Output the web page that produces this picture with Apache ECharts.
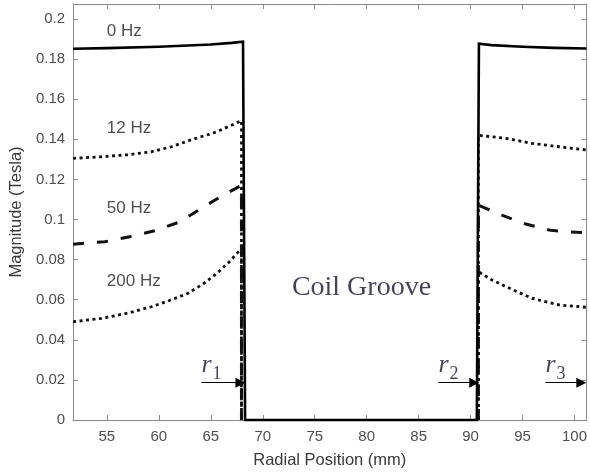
<!DOCTYPE html>
<html>
<head>
<meta charset="utf-8">
<title>Magnitude vs radial position</title>
<script src="https://cdn.jsdelivr.net/npm/echarts@6/dist/echarts.min.js"></script>
<style>
  html, body { margin: 0; padding: 0; background: #fff; }
  #chart { width: 590px; height: 476px; }
</style>
</head>
<body>
<div id="chart"></div>
<script>
// Axis ranges and ticks
const xMin = 51.75;
const xMax = 101.15;
const xTicks = [55, 60, 65, 70, 75, 80, 85, 90, 95, 100];
const yMin = 0;
const yMax = 0.2075;
const yTicks = [0, 0.02, 0.04, 0.06, 0.08, 0.1, 0.12, 0.14, 0.16, 0.18, 0.2];

// Flux density magnitude along the radius (mm, Tesla); null splits the curve across the groove
const radius0 = [51.75, 55, 60, 65, 67, 68.1, 68.3, 90.6, 90.8, 92, 95, 98, 101.15];
const mag0 = [0.1852, 0.1855, 0.1862, 0.1873, 0.1881, 0.1887, 0, 0, 0.1877, 0.1870, 0.1862, 0.1856, 0.1853];

const radius12 = [51.75, 54.5, 57, 59.3, 61.2, 63.1, 65.6, 67.95, 67.95, 79.5, 90.75, 90.75, 93.4, 95.9, 98.5, 101.15];
const mag12 = [0.1305, 0.1313, 0.1323, 0.1338, 0.1363, 0.1397, 0.1438, 0.1493, 0, null, 0, 0.142, 0.1405, 0.138, 0.1363, 0.1347];

const radius50 = [51.75, 54.8, 57.2, 59.6, 61.9, 64.1, 66.2, 67.95, 67.95, 79.5, 90.75, 90.75, 93.0, 95.3, 97.7, 100.25, 101.15];
const mag50 = [0.0877, 0.0889, 0.0914, 0.0944, 0.0986, 0.1056, 0.1122, 0.117, 0, null, 0, 0.1072, 0.1022, 0.0978, 0.0946, 0.0936, 0.0934];

const radius200 = [51.75, 54.5, 57, 59.3, 61.2, 62.8, 64.3, 65.6, 66.8, 67.95, 67.95, 79.5, 90.75, 90.75, 92, 93.4, 95.9, 98.5, 101.15];
const mag200 = [0.049, 0.0507, 0.0533, 0.0565, 0.0599, 0.0632, 0.068, 0.0732, 0.079, 0.0856, 0, null, 0, 0.074, 0.0700, 0.0665, 0.0607, 0.0574, 0.0562];

// Curve annotations
const curveLabels = ['0 Hz', '12 Hz', '50 Hz', '200 Hz'];
const curveLabelRadius = [55, 55, 55, 55];
const curveLabelMag = [0.1937, 0.1455, 0.1056, 0.069];

// Region annotation
const regionLabel = 'Coil Groove';
const regionRadius = 79.5;
const regionMag = 0.0658;

// Radius markers r1, r2, r3; arrow ends sit where the arrowhead centre goes
const markerIndex = ['1', '2', '3'];
const arrowStart = [64.1, 86.9, 97.2];
const arrowEnd = [67.85, 90.35, 100.65];
const arrowMag = 0.0186;
const markerLabelMag = 0.0272;

const frameColor = '#8a8a8a';
const tickLabelColor = '#4f4f4f';
const serifInk = '#14142a';

function pairs(xs, ys) {
  return xs.map((x, i) => [x, ys[i] === null ? '-' : ys[i]]);
}

const chart = echarts.init(document.getElementById('chart'), null, { renderer: 'canvas' });

const frameAxisCommon = {
  type: 'value',
  axisLine: { show: true, onZero: false, lineStyle: { color: frameColor, width: 1 } },
  splitLine: { show: false }
};

const curveCommon = {
  type: 'line', showSymbol: false, symbol: 'none', connectNulls: false
};

const option = {
  backgroundColor: '#ffffff',
  animation: false,
  grid: { left: 71, right: 2, top: 4, bottom: 56, containLabel: false },
  xAxis: [
    Object.assign({}, frameAxisCommon, {
      min: xMin, max: xMax, position: 'bottom',
      axisTick: { show: true, inside: true, length: 5, customValues: xTicks, lineStyle: { color: frameColor } },
      axisLabel: { show: true, customValues: xTicks, color: tickLabelColor, fontSize: 15, fontFamily: 'Liberation Sans', margin: 9 },
      name: 'Radial Position (mm)', nameLocation: 'middle', nameGap: 32,
      nameTextStyle: { color: '#3a3a3a', fontSize: 16.5, fontFamily: 'Liberation Sans' }
    }),
    Object.assign({}, frameAxisCommon, {
      min: xMin, max: xMax, position: 'top',
      axisTick: { show: true, inside: true, length: 5, customValues: xTicks, lineStyle: { color: frameColor } },
      axisLabel: { show: false }
    })
  ],
  yAxis: [
    Object.assign({}, frameAxisCommon, {
      min: yMin, max: yMax, position: 'left',
      axisTick: { show: true, inside: true, length: 5, customValues: yTicks, lineStyle: { color: frameColor } },
      axisLabel: { show: true, customValues: yTicks, color: tickLabelColor, fontSize: 15, fontFamily: 'Liberation Sans', margin: 8 },
      name: 'Magnitude (Tesla)', nameLocation: 'middle', nameGap: 42, nameRotate: 90,
      nameTextStyle: { color: '#3a3a3a', fontSize: 16.5, fontFamily: 'Liberation Sans' }
    }),
    Object.assign({}, frameAxisCommon, {
      min: yMin, max: yMax, position: 'right',
      axisTick: { show: true, inside: true, length: 5, customValues: yTicks, lineStyle: { color: frameColor } },
      axisLabel: { show: false }
    })
  ],
  series: [
    Object.assign({}, curveCommon, {
      name: '200 Hz', data: pairs(radius200, mag200),
      lineStyle: { color: '#111', width: 2.8, type: [3, 3.5], cap: 'butt' }
    }),
    Object.assign({}, curveCommon, {
      name: '50 Hz', data: pairs(radius50, mag50),
      lineStyle: { color: '#111', width: 3, type: [11, 13], cap: 'butt' }
    }),
    Object.assign({}, curveCommon, {
      name: '12 Hz', data: pairs(radius12, mag12),
      lineStyle: { color: '#111', width: 2.8, type: [3, 3.5], cap: 'butt' }
    }),
    {
      name: '0 Hz', type: 'line', data: pairs(radius0, mag0),
      showSymbol: false, symbol: 'none', clip: false,
      lineStyle: { color: '#000', width: 2.6, type: 'solid', join: 'miter' }
    },
    {
      name: 'curve labels', type: 'scatter', symbolSize: 0, silent: true,
      data: curveLabels.map((t, i) => ({ value: [curveLabelRadius[i], curveLabelMag[i]], name: t })),
      label: {
        show: true, position: 'right', distance: 0,
        formatter: p => p.name,
        color: '#222', fontSize: 17, fontFamily: 'Liberation Sans'
      }
    },
    {
      name: 'region label', type: 'scatter', symbolSize: 0, silent: true,
      data: [{ value: [regionRadius, regionMag], name: regionLabel }],
      label: {
        show: true, position: 'inside',
        formatter: p => p.name,
        color: serifInk, fontSize: 28, fontFamily: 'Liberation Serif'
      }
    },
    {
      name: 'marker labels', type: 'scatter', symbolSize: 0, silent: true,
      data: markerIndex.map((k, i) => ({ value: [arrowStart[i], markerLabelMag], name: k })),
      label: {
        show: true, position: 'right', distance: 0,
        formatter: p => '{r|r}{s|' + p.name + '}',
        rich: {
          r: { fontSize: 26, fontStyle: 'italic', fontFamily: 'Liberation Serif', color: serifInk, verticalAlign: 'bottom' },
          s: { fontSize: 18, fontFamily: 'Liberation Serif', color: serifInk, verticalAlign: 'bottom', padding: [0, 0, -5, 1] }
        }
      }
    },
    {
      name: 'marker arrows', type: 'lines', coordinateSystem: 'cartesian2d', silent: true,
      symbol: ['none', 'triangle'], symbolSize: [7, 10],
      lineStyle: { color: '#000', width: 1, opacity: 1, curveness: 0 },
      data: arrowStart.map((s, i) => ({ coords: [[s, arrowMag], [arrowEnd[i], arrowMag]] }))
    }
  ]
};

chart.setOption(option);
</script>
</body>
</html>
